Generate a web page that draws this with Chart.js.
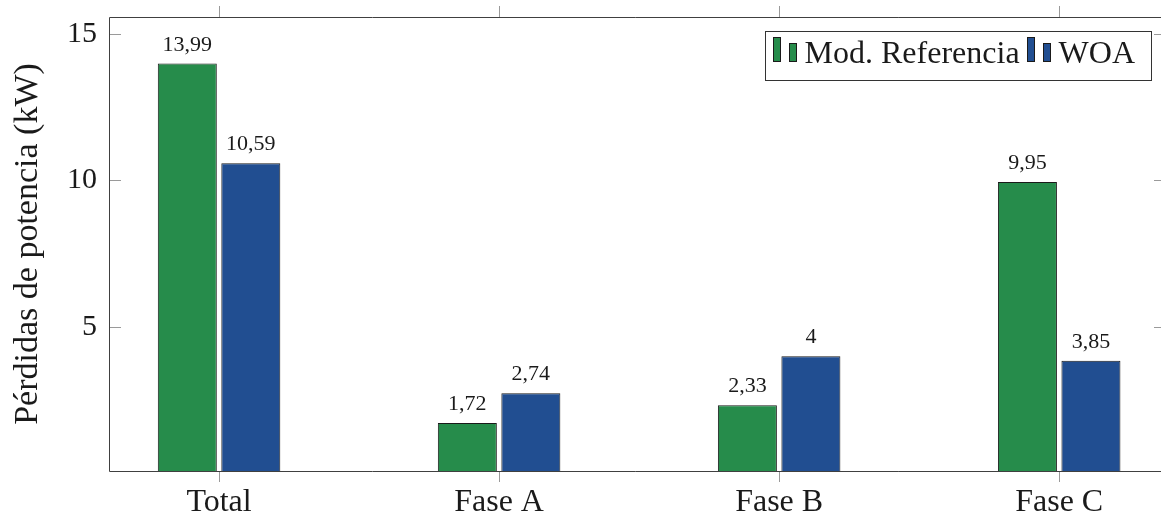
<!DOCTYPE html>
<html>
<head>
<meta charset="utf-8">
<script src="https://cdn.jsdelivr.net/npm/chart.js@4.4.1/dist/chart.umd.min.js"></script>
<style>
  html, body { margin: 0; padding: 0; background: #ffffff; }
  #wrap { width: 1161px; height: 517px; }
</style>
</head>
<body>
<div id="wrap"><canvas id="chart" width="1161" height="517"></canvas></div>
<script>
// Power losses per phase: reference model vs. WOA
const categories = ['Total', 'Fase A', 'Fase B', 'Fase C'];
const refLosses = [13.99, 1.72, 2.33, 9.95];
const woaLosses = [10.59, 2.74, 4, 3.85];
const seriesNames = ['Mod. Referencia', 'WOA'];
const yTicks = [5, 10, 15];

const GREEN = '#268c4b';
const BLUE = '#214e91';
const SERIF = '"Liberation Serif"';
const AXIS_COLOR = '#404040';
const TICK_COLOR = '#9a9a9a';

const fmt = v => String(v).replace('.', ',');

// Frame, tick marks, value labels and legend, drawn over the bars
const framePlugin = {
  id: 'frame',
  afterDatasetsDraw(chart) {
    const ctx = chart.ctx;
    const a = chart.chartArea;
    const xs = chart.scales.x, ys = chart.scales.y;
    ctx.save();

    // value labels above the bars
    ctx.fillStyle = '#1a1a1a';
    ctx.font = '22px ' + SERIF;
    ctx.textAlign = 'center';
    ctx.textBaseline = 'alphabetic';
    chart.data.datasets.forEach((ds, di) => {
      const meta = chart.getDatasetMeta(di);
      meta.data.forEach((bar, i) => {
        ctx.fillText(fmt(ds.data[i].y), bar.x, bar.y - 13);
      });
    });

    // tick marks
    ctx.strokeStyle = TICK_COLOR;
    ctx.lineWidth = 1;
    ctx.beginPath();
    categories.forEach((c, i) => {
      const px = Math.round(xs.getPixelForValue(i)) + 0.5;
      ctx.moveTo(px, a.top - 11); ctx.lineTo(px, a.top);
      ctx.moveTo(px, a.bottom); ctx.lineTo(px, a.bottom + 11);
    });
    yTicks.forEach(t => {
      const py = Math.round(ys.getPixelForValue(t)) + 0.5;
      ctx.moveTo(a.left, py); ctx.lineTo(a.left + 12, py);
      ctx.moveTo(a.right - 6, py); ctx.lineTo(a.right + 1, py);
    });
    ctx.stroke();

    // axis frame
    ctx.strokeStyle = AXIS_COLOR;
    ctx.beginPath();
    ctx.moveTo(a.left + 0.5, a.top + 0.5); ctx.lineTo(a.right + 1, a.top + 0.5);
    ctx.moveTo(a.left + 0.5, a.top + 0.5); ctx.lineTo(a.left + 0.5, a.bottom + 0.5);
    ctx.moveTo(a.left + 0.5, a.bottom + 0.5); ctx.lineTo(a.right + 1, a.bottom + 0.5);
    ctx.stroke();

    // legend box with two-bar icons
    ctx.font = '32px ' + SERIF;
    ctx.textAlign = 'left';
    const iconW = 8, iconGap = 8, textGap = 8, itemGap = 7, padL = 8, padR = 16;
    const items = chart.data.datasets.map(ds => ({
      label: ds.label, color: ds.backgroundColor, w: ctx.measureText(ds.label).width
    }));
    let total = padL + padR;
    items.forEach((it, k) => {
      total += iconW * 2 + iconGap + textGap + it.w + (k < items.length - 1 ? itemGap : 0);
    });
    const boxR = a.right - 9, boxT = 31, boxH = 49;
    const boxL = boxR - total;
    ctx.fillStyle = '#ffffff';
    ctx.fillRect(boxL, boxT, total, boxH);
    ctx.strokeStyle = '#333333';
    ctx.strokeRect(Math.round(boxL) + 0.5, boxT + 0.5, Math.round(total), boxH);
    const base = 63;
    let x = boxL + padL;
    items.forEach(it => {
      [[37, 0], [43, iconW + iconGap]].forEach(([top, dx]) => {
        ctx.fillStyle = it.color;
        ctx.fillRect(Math.round(x + dx), top, iconW, 62 - top);
        ctx.strokeStyle = '#1a1a1a';
        ctx.strokeRect(Math.round(x + dx) + 0.5, top + 0.5, iconW - 1, 62 - top - 1);
      });
      x += iconW * 2 + iconGap + textGap;
      ctx.fillStyle = '#1a1a1a';
      ctx.fillText(it.label, x, base);
      x += it.w + itemGap;
    });

    ctx.restore();
  }
};

new Chart(document.getElementById('chart'), {
  type: 'bar',
  data: {
    datasets: [
      {
        label: seriesNames[0],
        data: refLosses.map((v, i) => ({ x: i, y: v })),
        backgroundColor: GREEN,
        borderColor: '#1a1a1a',
        borderWidth: 1
      },
      {
        label: seriesNames[1],
        data: woaLosses.map((v, i) => ({ x: i, y: v })),
        backgroundColor: BLUE,
        borderColor: '#1a1a1a',
        borderWidth: 1
      }
    ]
  },
  options: {
    responsive: false,
    animation: false,
    categoryPercentage: 0.4536,
    barPercentage: 0.929,
    layout: { padding: { top: 17, right: 1, left: 0, bottom: 0 } },
    plugins: {
      legend: { display: false },
      tooltip: { enabled: false }
    },
    scales: {
      x: {
        type: 'linear',
        offset: false,
        min: -0.393,
        max: 3.36,
        grid: { display: false, offset: false, drawTicks: false },
        border: { display: false },
        afterBuildTicks: s => { s.ticks = categories.map((c, i) => ({ value: i })); },
        afterFit: s => { s.height = 46; s.paddingLeft = 0; s.paddingRight = 0; },
        ticks: {
          padding: 12,
          color: '#1a1a1a',
          font: { family: SERIF, size: 32 },
          maxRotation: 0,
          autoSkip: false,
          callback: v => categories[v]
        }
      },
      y: {
        min: 0.085,
        max: 15.58,
        grid: { display: false, drawTicks: false },
        border: { display: false },
        afterBuildTicks: s => { s.ticks = yTicks.map(v => ({ value: v })); },
        afterFit: s => { s.width = 109; s.paddingTop = 0; s.paddingBottom = 0; },
        ticks: {
          padding: 12,
          color: '#1a1a1a',
          font: { family: SERIF, size: 30 },
          callback: v => String(v)
        },
        title: {
          display: true,
          text: 'Pérdidas de potencia (kW)',
          color: '#1a1a1a',
          font: { family: SERIF, size: 34 },
          padding: { top: 8, bottom: 0 }
        }
      }
    }
  },
  plugins: [framePlugin]
});
</script>
</body>
</html>
